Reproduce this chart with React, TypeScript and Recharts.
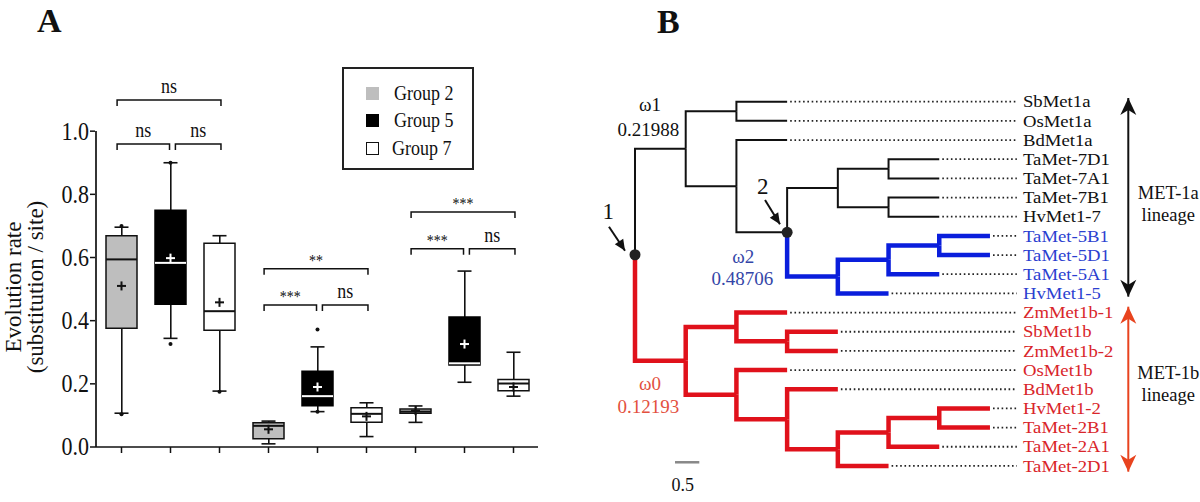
import React from "react";
import {
  ComposedChart,
  ScatterChart,
  Bar,
  Cell,
  Scatter,
  XAxis,
  YAxis,
  Legend,
} from "recharts";

const SERIF = '"Liberation Serif", "Times New Roman", Times, serif';
const INK = "#111";

// ---------- panel A data ----------
const metrics = ["dS", "dN", "ω"];
const groups = ["Group 2", "Group 5", "Group 7"];
// one entry per box, order: dS G2, G5, G7, dN G2, G5, G7, ω G2, G5, G7
const whiskerMin = [0.107, 0.344, 0.177, 0.01, 0.112, 0.033, 0.078, 0.205, 0.161];
const q1 = [0.376, 0.452, 0.37, 0.026, 0.131, 0.078, 0.107, 0.26, 0.178];
const median = [0.594, 0.583, 0.43, 0.067, 0.161, 0.105, 0.112, 0.265, 0.201];
const q3 = [0.669, 0.75, 0.645, 0.077, 0.24, 0.124, 0.12, 0.412, 0.214];
const whiskerMax = [0.696, 0.9, 0.669, 0.082, 0.317, 0.14, 0.13, 0.557, 0.3];
const mean = [0.51, 0.598, 0.458, 0.056, 0.19, 0.097, 0.115, 0.326, 0.19];
const outlierBox = [0, 0, 1, 1, 2, 4, 4];
const outlierValue = [0.7, 0.104, 0.9, 0.326, 0.175, 0.372, 0.112];
const yTicks = [0, 0.2, 0.4, 0.6, 0.8, 1.0];
// tests within each metric: G2 vs G5, G5 vs G7, G2 vs G7
const sigPairs = [[0, 1], [1, 2], [0, 2]];
const sigLabels = [
  ["ns", "ns", "ns"],
  ["***", "ns", "**"],
  ["***", "ns", "***"],
];

// ---------- panel B data ----------
type Clade = string | Clade[];
const topology: Clade = [
  [
    ["SbMet1a", "OsMet1a"],
    [
      "BdMet1a",
      [
        [["TaMet-7D1", "TaMet-7A1"], ["TaMet-7B1", "HvMet1-7"]],
        [[["TaMet-5B1", "TaMet-5D1"], "TaMet-5A1"], "HvMet1-5"],
      ],
    ],
  ],
  [
    ["ZmMet1b-1", ["SbMet1b", "ZmMet1b-2"]],
    ["OsMet1b", ["BdMet1b", [[["HvMet1-2", "TaMet-2B1"], "TaMet-2A1"], "TaMet-2D1"]]],
  ],
];
const blueLeaves = ["TaMet-5B1", "TaMet-5D1", "TaMet-5A1", "HvMet1-5"];
const redLeaves = [
  "ZmMet1b-1", "SbMet1b", "ZmMet1b-2", "OsMet1b", "BdMet1b",
  "HvMet1-2", "TaMet-2B1", "TaMet-2A1", "TaMet-2D1",
];

// ---------- styles ----------
const boxFill = ["#bebebe", "#000", "#fff"];
const boxStroke = [INK, "#000", INK];
const markColor = [INK, "#fff", INK];
const lineColor: Record<string, string> = { black: INK, blue: "#0a1edc", red: "#e0111b" };
const lineWidth: Record<string, number> = { black: 2, blue: 4.5, red: 4.5 };
const labelColor: Record<string, string> = { black: INK, blue: "#2b3fd0", red: "#d9252a" };
const STRETCH = 1.12;
const PAD = { left: 2, right: 0 };

const rows = metrics.flatMap((m, mi) =>
  groups.map((g, gi) => {
    const k = mi * 3 + gi;
    return {
      key: `${m}-${g}`,
      group: gi,
      whisker: [whiskerMin[k], whiskerMax[k]],
      box: [q1[k], q3[k]],
      min: whiskerMin[k],
      max: whiskerMax[k],
      median: median[k],
      mean: mean[k],
    };
  })
);

const outliers = outlierBox.map((b, i) => ({ x: b + 1, y: outlierValue[i] }));
const groupTicks = metrics.map((_, i) => i * 3 + 2);

// bracket heights (data units) for lower pair level and upper level
const BRACKET_Y = [
  [0.959, 1.099],
  [0.45, 0.564],
  [0.628, 0.744],
];
const TICK = 0.019;

const brackets = metrics.flatMap((_, mi) =>
  sigPairs.map(([a, b], pi) => {
    const base = mi * 3 + 1;
    const x1 = base + a + (a === 1 ? 0.1 : -0.09);
    const x2 = base + b + (b === 1 ? -0.02 : 0.03);
    const y = pi === 2 ? BRACKET_Y[mi][1] : BRACKET_Y[mi][0];
    return {
      pts: [
        { x: x1, y: y - TICK },
        { x: x1, y },
        { x: x2, y },
        { x: x2, y: y - TICK },
      ],
      text: { x: (x1 + x2) / 2, y, label: sigLabels[mi][pi] },
    };
  })
);

const nothing = () => <g />;

const Cap = (p: any) => (
  <line x1={p.cx - 7} x2={p.cx + 7} y1={p.cy} y2={p.cy} stroke={INK} strokeWidth={1.6} />
);
const MedianMark = (p: any) => (
  <line
    x1={p.cx - 15.5}
    x2={p.cx + 15.5}
    y1={p.cy}
    y2={p.cy}
    stroke={markColor[p.payload.group]}
    strokeWidth={2}
  />
);
const MeanMark = (p: any) => {
  const c = markColor[p.payload.group];
  return (
    <g stroke={c} strokeWidth={2}>
      <line x1={p.cx - 4.5} x2={p.cx + 4.5} y1={p.cy} y2={p.cy} />
      <line x1={p.cx} x2={p.cx} y1={p.cy - 4.5} y2={p.cy + 4.5} />
    </g>
  );
};
const OutlierDot = (p: any) => <circle cx={p.cx} cy={p.cy} r={2} fill={INK} />;
const SigText = (p: any) => {
  const ns = p.payload.label === "ns";
  return (
    <text
      transform={`translate(${p.cx},${p.cy - (ns ? 7 : 3)}) scale(1,${STRETCH})`}
      textAnchor="middle"
      fontFamily={SERIF}
      fontSize={ns ? 18 : 14}
      fill={INK}
    >
      {p.payload.label}
    </text>
  );
};

const YTick = (p: any) => (
  <text
    transform={`translate(${p.x},${p.y}) scale(1,${STRETCH})`}
    textAnchor="end"
    dominantBaseline="central"
    fontFamily={SERIF}
    fontSize={22}
    fill={INK}
  >
    {Number(p.payload.value).toFixed(1)}
  </text>
);

const GroupTick = (p: any) => {
  const idx = groupTicks.indexOf(p.payload.value);
  return (
    <g>
      <line x1={p.x - 52} x2={p.x + 52} y1={p.y + 17} y2={p.y + 17} stroke={INK} strokeWidth={1.5} />
      <text
        transform={`translate(${p.x},${p.y + 43}) scale(1,${STRETCH})`}
        textAnchor="middle"
        fontFamily={SERIF}
        fontSize={22}
        fill={INK}
      >
        {metrics[idx]}
      </text>
    </g>
  );
};

const YLabel = () => (
  <g fontFamily={SERIF} fontSize={23} fill={INK}>
    <text transform="translate(13,287) rotate(-90)" textAnchor="middle" dominantBaseline="central">
      Evolution rate
    </text>
    <text transform="translate(35,287) rotate(-90)" textAnchor="middle" dominantBaseline="central">
      (substitution / site)
    </text>
  </g>
);

const LegendBox = () => (
  <div
    style={{
      width: 132,
      height: 103,
      border: "2px solid #222",
      boxSizing: "border-box",
      position: "relative",
      background: "#fff",
      fontFamily: SERIF,
      fontSize: 18,
      color: INK,
    }}
  >
    {groups.map((g, i) => (
      <div
        key={g}
        style={{
          position: "absolute",
          left: 22,
          top: 14 + i * 27.5,
          height: 20,
          display: "flex",
          alignItems: "center",
          whiteSpace: "nowrap",
        }}
      >
        <span
          style={{
            display: "inline-block",
            width: 13,
            height: 13,
            boxSizing: "border-box",
            background: boxFill[i],
            border: i === 2 ? "1.5px solid #111" : "none",
          }}
        />
        <span
          style={{
            marginLeft: i === 2 ? 13 : 15,
            display: "inline-block",
            transform: `scaleY(${STRETCH + 0.06})`,
          }}
        >
          {g}
        </span>
      </div>
    ))}
  </div>
);

function PanelA() {
  return (
    <ComposedChart
      width={560}
      height={502}
      data={rows}
      margin={{ top: 68, right: 22, bottom: 0, left: 0 }}
    >
      <XAxis
        xAxisId="cat"
        dataKey="key"
        type="category"
        height={8}
        interval={0}
        padding={PAD}
        tickSize={6}
        tick={nothing}
        axisLine={{ stroke: INK, strokeWidth: 1.5 }}
        tickLine={{ stroke: INK, strokeWidth: 1.5 }}
      />
      <XAxis
        xAxisId="grp"
        type="number"
        dataKey="x"
        domain={[0.5, 9.5]}
        padding={PAD}
        ticks={groupTicks}
        interval={0}
        height={47}
        axisLine={false}
        tickLine={false}
        tickSize={0}
        tickMargin={0}
        tick={GroupTick}
      />
      <XAxis xAxisId="w" dataKey="key" type="category" padding={PAD} hide height={0} />
      <XAxis
        xAxisId="num"
        type="number"
        dataKey="x"
        domain={[0.5, 9.5]}
        padding={PAD}
        hide
        height={0}
      />
      <YAxis
        domain={[0, 1.2]}
        ticks={yTicks}
        width={95}
        axisLine={false}
        tickSize={5}
        tickMargin={1}
        tickLine={{ stroke: INK, strokeWidth: 1.5 }}
        tick={YTick}
        label={YLabel}
      />
      <Legend
        layout="vertical"
        align="center"
        verticalAlign="middle"
        wrapperStyle={{ left: 342, top: 67, width: 132, height: 103 }}
        content={() => <LegendBox />}
      />
      <Bar xAxisId="w" dataKey="whisker" barSize={1.6} fill={INK} isAnimationActive={false} />
      <Bar xAxisId="cat" dataKey="box" barSize={31} strokeWidth={1.5} isAnimationActive={false}>
        {rows.map((r) => (
          <Cell key={r.key} fill={boxFill[r.group]} stroke={boxStroke[r.group]} />
        ))}
      </Bar>
      <Scatter xAxisId="cat" dataKey="min" shape={Cap} isAnimationActive={false} />
      <Scatter xAxisId="cat" dataKey="max" shape={Cap} isAnimationActive={false} />
      <Scatter xAxisId="cat" dataKey="median" shape={MedianMark} isAnimationActive={false} />
      <Scatter xAxisId="cat" dataKey="mean" shape={MeanMark} isAnimationActive={false} />
      <Scatter xAxisId="num" data={outliers} dataKey="y" shape={OutlierDot} isAnimationActive={false} />
      {brackets.map((b, i) => (
        <Scatter
          key={`br${i}`}
          xAxisId="num"
          data={b.pts}
          dataKey="y"
          line={{ stroke: INK, strokeWidth: 1.5 }}
          shape={nothing}
          isAnimationActive={false}
        />
      ))}
      <Scatter
        xAxisId="num"
        data={brackets.map((b) => b.text)}
        dataKey="y"
        shape={SigText}
        isAnimationActive={false}
      />
    </ComposedChart>
  );
}

// the y axis line only spans 0..1.0, so it comes from an overlay axis with that domain
function PanelAFrame() {
  return (
    <ComposedChart
      width={560}
      height={502}
      data={rows}
      margin={{ top: 131, right: 22, bottom: 55, left: 0 }}
    >
      <XAxis dataKey="key" hide height={0} />
      <YAxis
        domain={[0, 1]}
        ticks={yTicks}
        width={96}
        tick={nothing}
        tickLine={false}
        axisLine={{ stroke: INK, strokeWidth: 1.7 }}
      />
    </ComposedChart>
  );
}

// ---------- tree layout ----------
interface TNode {
  x: number;
  y: number;
  leaves: string[];
  kids: TNode[];
}
function place(c: Clade, depth: number, next: { i: number }): TNode {
  if (typeof c === "string") return { x: depth, y: next.i++, leaves: [c], kids: [] };
  const kids = c.map((k) => place(k, depth + 1, next));
  const y = kids.reduce((s, k) => s + k.y, 0) / kids.length;
  return { x: depth, y, leaves: kids.flatMap((k) => k.leaves), kids };
}
const colourOf = (n: TNode) =>
  n.leaves.every((l) => blueLeaves.includes(l))
    ? "blue"
    : n.leaves.every((l) => redLeaves.includes(l))
    ? "red"
    : "black";

const treeRoot = place(topology, 0, { i: 0 });
const leafNodes: TNode[] = [];
const treeEdges: { pts: { x: number; y: number }[]; colour: string }[] = [];
const splitNodes: TNode[] = [];
(function walk(n: TNode) {
  if (!n.kids.length) leafNodes.push(n);
  if (new Set(n.kids.map(colourOf)).size > 1) splitNodes.push(n);
  n.kids.forEach((k) => {
    treeEdges.push({
      pts: [
        { x: n.x, y: n.y },
        { x: n.x, y: k.y },
        { x: k.x, y: k.y },
      ],
      colour: colourOf(k),
    });
    walk(k);
  });
})(treeRoot);

const LABEL_X = 7.651;
const DOTS_END = 7.53;

const treeNotes = [
  { x: 0.296, y: 0.172, text: "ω1", color: INK, size: 19 },
  { x: 0.262, y: 1.476, text: "0.21988", color: INK, size: 19 },
  { x: 2.136, y: 8.086, text: "ω2", color: "#3446a8", size: 19 },
  { x: 2.116, y: 9.212, text: "0.48706", color: "#3446a8", size: 19 },
  { x: 0.296, y: 14.69, text: "ω0", color: "#e3503e", size: 19 },
  { x: 0.262, y: 15.91, text: "0.12193", color: "#e3503e", size: 19 },
  { x: -0.527, y: 5.738, text: "1", color: INK, size: 23 },
  { x: 2.518, y: 4.434, text: "2", color: INK, size: 23 },
  { x: 0.941, y: 19.995, text: "0.5", color: INK, size: 18 },
  { x: 10.517, y: 4.778, text: "MET-1a", color: INK, size: 18.5 },
  { x: 10.517, y: 5.91, text: "lineage", color: INK, size: 18.5 },
  { x: 10.517, y: 14.168, text: "MET-1b", color: INK, size: 18.5 },
  { x: 10.517, y: 15.3, text: "lineage", color: INK, size: 18.5 },
];

const LeafLabel = (p: any) => (
  <text
    transform={`translate(${p.cx},${p.cy}) scale(1.1,1)`}
    dominantBaseline="central"
    fontFamily={SERIF}
    fontSize={17}
    fill={labelColor[p.payload.colour]}
  >
    {p.payload.name}
  </text>
);
const NoteText = (p: any) => (
  <text
    x={p.cx}
    y={p.cy}
    textAnchor="middle"
    dominantBaseline="central"
    fontFamily={SERIF}
    fontSize={p.payload.size}
    fill={p.payload.color}
  >
    {p.payload.text}
  </text>
);
const NodeDot = (p: any) => <circle cx={p.cx} cy={p.cy} r={5.5} fill="#222" />;
const BigHead = (colour: string) => (p: any) => {
  const s = p.payload.dir === "up" ? 1 : -1;
  const { cx, cy } = p;
  return (
    <path
      d={`M${cx},${cy} L${cx - 8},${cy + s * 17} L${cx},${cy + s * 12} L${cx + 8},${cy + s * 17} Z`}
      fill={colour}
    />
  );
};
const SmallHead = (p: any) =>
  p.payload.head ? (
    <path
      d="M0,0 L-5,-11 L5,-11 Z"
      fill={INK}
      transform={`translate(${p.cx},${p.cy}) rotate(-33)`}
    />
  ) : (
    <g />
  );

function PanelB() {
  return (
    <ScatterChart width={620} height={502} margin={{ top: 0, right: 0, bottom: 0, left: 0 }}>
      <XAxis type="number" dataKey="x" domain={[-1.0846, 11.142]} hide />
      <YAxis type="number" dataKey="y" domain={[-5.305, 20.882]} reversed hide />
      {leafNodes.map((n, i) => (
        <Scatter
          key={`dot${i}`}
          data={[
            { x: n.x + 0.06, y: n.y },
            { x: DOTS_END, y: n.y },
          ]}
          line={{ stroke: "#222", strokeWidth: 1.8, strokeDasharray: "1.6 2.7" }}
          shape={nothing}
          isAnimationActive={false}
        />
      ))}
      {treeEdges.map((e, i) => (
        <Scatter
          key={`edge${i}`}
          data={e.pts}
          line={{ stroke: lineColor[e.colour], strokeWidth: lineWidth[e.colour] }}
          shape={nothing}
          isAnimationActive={false}
        />
      ))}
      <Scatter
        data={splitNodes.map((n) => ({ x: n.x, y: n.y }))}
        shape={NodeDot}
        isAnimationActive={false}
      />
      <Scatter
        data={leafNodes.map((n) => ({ x: LABEL_X, y: n.y, name: n.leaves[0], colour: colourOf(n) }))}
        shape={LeafLabel}
        isAnimationActive={false}
      />
      <Scatter data={treeNotes} shape={NoteText} isAnimationActive={false} />
      <Scatter
        data={[
          { x: 0.789, y: 18.81 },
          { x: 1.268, y: 18.81 },
        ]}
        line={{ stroke: "#888", strokeWidth: 2.5 }}
        shape={nothing}
        isAnimationActive={false}
      />
      <Scatter
        data={[
          { x: -0.513, y: 6.52 },
          { x: -0.197, y: 7.774, head: true },
        ]}
        line={{ stroke: INK, strokeWidth: 2 }}
        shape={SmallHead}
        isAnimationActive={false}
      />
      <Scatter
        data={[
          { x: 2.564, y: 5.128 },
          { x: 2.859, y: 6.395, head: true },
        ]}
        line={{ stroke: INK, strokeWidth: 2 }}
        shape={SmallHead}
        isAnimationActive={false}
      />
      <Scatter
        data={[
          { x: 9.728, y: -0.193, dir: "up" },
          { x: 9.728, y: 10.17, dir: "down" },
        ]}
        line={{ stroke: INK, strokeWidth: 2 }}
        shape={BigHead(INK)}
        isAnimationActive={false}
      />
      <Scatter
        data={[
          { x: 9.728, y: 10.694, dir: "up" },
          { x: 9.728, y: 19.3, dir: "down" },
        ]}
        line={{ stroke: "#e8431e", strokeWidth: 2 }}
        shape={BigHead("#e8431e")}
        isAnimationActive={false}
      />
    </ScatterChart>
  );
}

export default function App() {
  return (
    <div
      style={{
        position: "absolute",
        left: 0,
        top: 0,
        width: 1200,
        height: 502,
        background: "#fff",
        overflow: "hidden",
      }}
    >
      <div style={{ position: "absolute", left: 580, top: 0 }}>
        <PanelB />
      </div>
      <div style={{ position: "absolute", left: 0, top: 0 }}>
        <PanelA />
      </div>
      <svg
        width={1200}
        height={502}
        style={{ position: "absolute", left: 0, top: 0, pointerEvents: "none" }}
      >
        <text x={37} y={32} fontFamily={SERIF} fontWeight="bold" fontSize={34} fill={INK}>
          A
        </text>
        <text x={657} y={33} fontFamily={SERIF} fontWeight="bold" fontSize={34} fill={INK}>
          B
        </text>
      </svg>
      <div style={{ position: "absolute", left: 0, top: 0, pointerEvents: "none" }}>
        <PanelAFrame />
      </div>
    </div>
  );
}
